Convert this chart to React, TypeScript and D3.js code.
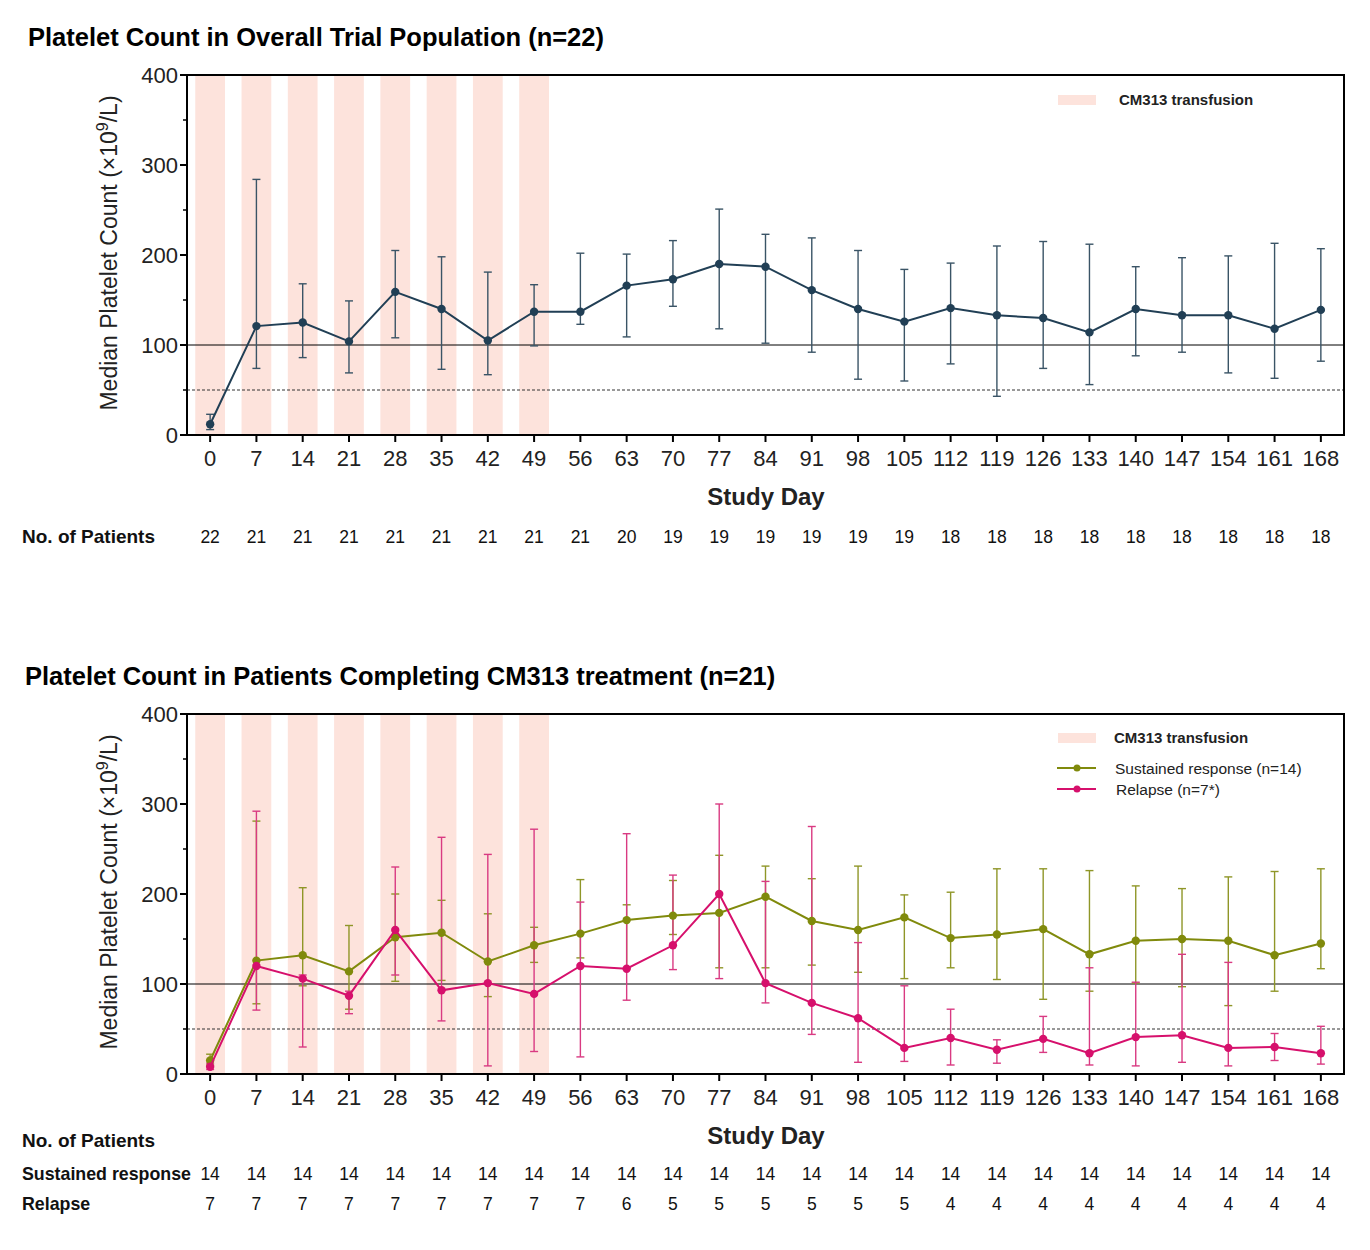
import React from 'react';
import * as d3 from 'd3';

// study days on the x axis
const days = [0, 7, 14, 21, 28, 35, 42, 49, 56, 63, 70, 77, 84, 91, 98, 105, 112, 119, 126, 133, 140, 147, 154, 161, 168];
const transfusionDays = [0, 7, 14, 21, 28, 35, 42, 49];
const yTicks = [0, 100, 200, 300, 400];
const yMinorTicks = [50, 150, 250, 350];

// overall trial population
const overallMedian = [12, 121, 125, 104, 159, 140, 105, 137, 137, 166, 173, 190, 187, 161, 140, 126, 141, 133, 130, 114, 140, 133, 133, 118, 139];
const overallLow = [6, 74, 86, 69, 108, 73, 67, 99, 123, 109, 143, 118, 102, 92, 62, 60, 79, 43, 74, 56, 88, 92, 69, 63, 82];
const overallHigh = [23, 284, 168, 149, 205, 198, 181, 167, 202, 201, 216, 251, 223, 219, 205, 184, 191, 210, 215, 212, 187, 197, 199, 213, 207];
const overallN = [22, 21, 21, 21, 21, 21, 21, 21, 21, 20, 19, 19, 19, 19, 19, 19, 18, 18, 18, 18, 18, 18, 18, 18, 18];

// sustained response
const sustainedMedian = [15, 126, 132, 114, 152, 157, 125, 143, 156, 171, 176, 179, 197, 170, 160, 174, 151, 155, 161, 133, 148, 150, 148, 132, 145];
const sustainedLow = [10, 78, 98, 72, 103, 104, 86, 124, 129, 117, 155, 118, 118, 121, 113, 106, 118, 105, 83, 92, 101, 97, 76, 92, 117];
const sustainedHigh = [22, 281, 207, 165, 200, 193, 178, 163, 216, 188, 215, 243, 231, 217, 231, 199, 202, 228, 228, 226, 209, 206, 219, 225, 228];
const sustainedN = [14, 14, 14, 14, 14, 14, 14, 14, 14, 14, 14, 14, 14, 14, 14, 14, 14, 14, 14, 14, 14, 14, 14, 14, 14];

// relapse
const relapseMedian = [8, 120, 106, 87, 160, 93, 101, 89, 120, 117, 143, 200, 101, 79, 62, 29, 40, 27, 39, 23, 41, 43, 29, 30, 23];
const relapseLow = [5, 71, 30, 67, 110, 59, 9, 25, 19, 82, 116, 106, 79, 44, 13, 14, 10, 12, 24, 10, 9, 13, 9, 15, 11];
const relapseHigh = [12, 292, 110, 92, 230, 263, 244, 272, 191, 267, 221, 300, 214, 275, 146, 98, 72, 38, 64, 118, 102, 133, 124, 45, 53];
const relapseN = [7, 7, 7, 7, 7, 7, 7, 7, 7, 6, 5, 5, 5, 5, 5, 5, 4, 4, 4, 4, 4, 4, 4, 4, 4];

const FONT = '"Liberation Sans", Arial, sans-serif';
const BAND = '#fde3dc';
const NAVY = '#213f55';
const OLIVE = '#808a0c';
const PINK = '#d6106c';

interface Series {
  median: number[];
  low: number[];
  high: number[];
  color: string;
  barColor: string;
}

interface PanelProps {
  top: number;
  title: string;
  titleX: number;
  series: Series[];
}

const x = d3.scaleLinear().domain([-3.5, 171.5]).range([187, 1344]);

const Panel = ({ top, title, titleX, series }: PanelProps) => {
  const y = d3.scaleLinear().domain([0, 400]).range([top + 360, top]);
  const bandW = x(4.5) - x(0);
  const line = d3.line<number>().x((_, i) => x(days[i])).y(d => y(d));
  const [x0, x1] = x.range();

  return (
    <g>
      <text x={titleX} y={top - 29} fontFamily={FONT} fontWeight="bold" fontSize={25.5}>{title}</text>
      {transfusionDays.map(d => (
        <rect key={d} x={x(d) - bandW / 2} y={y(400)} width={bandW} height={y(0) - y(400)} fill={BAND} />
      ))}
      {/* reference lines */}
      <line x1={x0} x2={x1} y1={y(100)} y2={y(100)} stroke="#000" strokeWidth={1} />
      <line x1={x0} x2={x1} y1={y(50)} y2={y(50)} stroke="#333" strokeWidth={1} strokeDasharray="3,2" />
      {series.map((s, si) => (
        <g key={si}>
          {days.map((d, i) => (
            <g key={d} stroke={s.barColor} strokeWidth={1.4}>
              <line x1={x(d)} x2={x(d)} y1={y(s.low[i])} y2={y(s.high[i])} />
              <line x1={x(d) - 4} x2={x(d) + 4} y1={y(s.low[i])} y2={y(s.low[i])} />
              <line x1={x(d) - 4} x2={x(d) + 4} y1={y(s.high[i])} y2={y(s.high[i])} />
            </g>
          ))}
        </g>
      ))}
      {series.map((s, si) => (
        <g key={si}>
          <path d={line(s.median) || ''} fill="none" stroke={s.color} strokeWidth={2} />
          {days.map((d, i) => (
            <circle key={d} cx={x(d)} cy={y(s.median[i])} r={4.2} fill={s.color} />
          ))}
        </g>
      ))}
      {/* frame */}
      <path d={`M${x0},${y(0)}V${y(400)}H${x1}V${y(0)}Z`} fill="none" stroke="#000" strokeWidth={2} />
      {/* y axis */}
      {yTicks.map(t => (
        <g key={t}>
          <line x1={x0 - 7} x2={x0} y1={y(t)} y2={y(t)} stroke="#000" strokeWidth={2} />
          <text x={x0 - 9} y={y(t)} dy="0.36em" textAnchor="end" fontFamily={FONT} fontSize={22} fill="#222">{t}</text>
        </g>
      ))}
      {yMinorTicks.map(t => (
        <line key={t} x1={x0 - 4} x2={x0} y1={y(t)} y2={y(t)} stroke="#000" strokeWidth={1.5} />
      ))}
      {/* x axis */}
      {days.map(d => (
        <g key={d}>
          <line x1={x(d)} x2={x(d)} y1={y(0)} y2={y(0) + 7} stroke="#000" strokeWidth={2} />
          <text x={x(d)} y={y(0) + 31} textAnchor="middle" fontFamily={FONT} fontSize={22} fill="#222">{d}</text>
        </g>
      ))}
      <text x={766} y={y(0) + 70} textAnchor="middle" fontFamily={FONT} fontWeight="bold" fontSize={24} fill="#222">Study Day</text>
      <text transform={`translate(117,${y(200) - 2}) rotate(-90)`} textAnchor="middle" fontFamily={FONT} fontSize={23} fill="#222">
        Median Platelet Count (×10<tspan dy="-9" fontSize={16}>9</tspan><tspan dy="9">/L)</tspan>
      </text>
    </g>
  );
};

const App = () => {
  const top1 = 75;
  const top2 = 714;
  return (
    <svg width={1370} height={1250} style={{ position: 'absolute', left: 0, top: 0, background: '#fff' }}>
      <Panel
        top={top1}
        titleX={28}
        title="Platelet Count in Overall Trial Population (n=22)"
        series={[{ median: overallMedian, low: overallLow, high: overallHigh, color: NAVY, barColor: '#3a5466' }]}
      />
      {/* top legend */}
      <rect x={1058} y={95} width={38} height={10} fill={BAND} />
      <text x={1119} y={105} fontFamily={FONT} fontWeight="bold" fontSize={15} fill="#222">CM313 transfusion</text>
      {/* top table */}
      <text x={22} y={543} fontFamily={FONT} fontWeight="bold" fontSize={19} fill="#111">No. of Patients</text>
      {days.map((d, i) => (
        <text key={d} x={x(d)} y={543} textAnchor="middle" fontFamily={FONT} fontSize={17.5} fill="#111">{overallN[i]}</text>
      ))}

      <Panel
        top={top2}
        titleX={25}
        title="Platelet Count in Patients Completing CM313 treatment (n=21)"
        series={[
          { median: sustainedMedian, low: sustainedLow, high: sustainedHigh, color: OLIVE, barColor: '#8f9628' },
          { median: relapseMedian, low: relapseLow, high: relapseHigh, color: PINK, barColor: '#d93a82' },
        ]}
      />
      {/* bottom legend */}
      <rect x={1058} y={733} width={38} height={10} fill={BAND} />
      <text x={1114} y={743} fontFamily={FONT} fontWeight="bold" fontSize={15} fill="#222">CM313 transfusion</text>
      <line x1={1057} x2={1096} y1={768} y2={768} stroke={OLIVE} strokeWidth={2} />
      <circle cx={1077} cy={768} r={3.5} fill={OLIVE} />
      <text x={1115} y={774} fontFamily={FONT} fontSize={15.5} fill="#222">Sustained response (n=14)</text>
      <line x1={1057} x2={1096} y1={789} y2={789} stroke={PINK} strokeWidth={2} />
      <circle cx={1077} cy={789} r={3.5} fill={PINK} />
      <text x={1116} y={795} fontFamily={FONT} fontSize={15.5} fill="#222">Relapse (n=7*)</text>
      {/* bottom table */}
      <text x={22} y={1147} fontFamily={FONT} fontWeight="bold" fontSize={19} fill="#111">No. of Patients</text>
      <text x={22} y={1180} fontFamily={FONT} fontWeight="bold" fontSize={17.8} fill="#111">Sustained response</text>
      <text x={22} y={1210} fontFamily={FONT} fontWeight="bold" fontSize={17.8} fill="#111">Relapse</text>
      {days.map((d, i) => (
        <g key={d}>
          <text x={x(d)} y={1180} textAnchor="middle" fontFamily={FONT} fontSize={17.5} fill="#111">{sustainedN[i]}</text>
          <text x={x(d)} y={1210} textAnchor="middle" fontFamily={FONT} fontSize={17.5} fill="#111">{relapseN[i]}</text>
        </g>
      ))}
    </svg>
  );
};

export default App;
